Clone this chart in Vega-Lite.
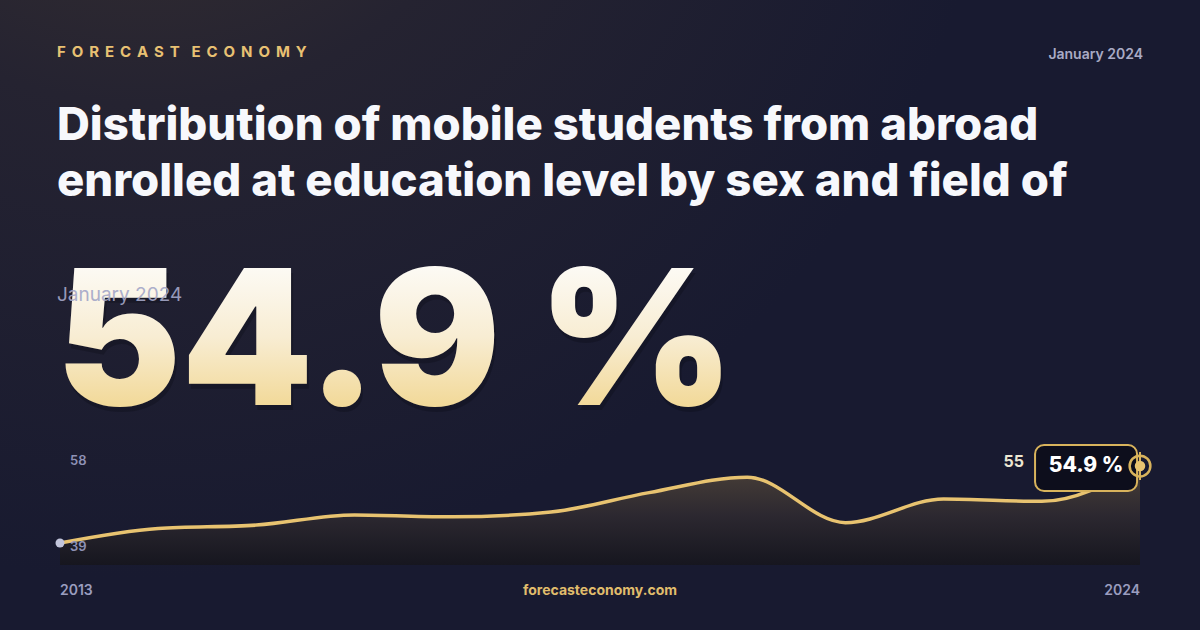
{
  "$schema": "https://vega.github.io/schema/vega-lite/v6.json",
  "width": 1200,
  "height": 630,
  "padding": 0,
  "autosize": {"type": "fit", "contains": "padding"},
  "background": "#181a30",
  "datasets": {
    "series": [
      {"year": 2013, "value": 39.0},
      {"year": 2014, "value": 42.0},
      {"year": 2015, "value": 42.7},
      {"year": 2016, "value": 44.8},
      {"year": 2017, "value": 44.4},
      {"year": 2018, "value": 45.4},
      {"year": 2019, "value": 49.4},
      {"year": 2020, "value": 52.6},
      {"year": 2021, "value": 43.2},
      {"year": 2022, "value": 48.1},
      {"year": 2023, "value": 47.6},
      {"year": 2024, "value": 54.9}
    ]
  },
  "data": {"name": "series"},
  "layer": [
    {
      "data": {"values": [{}]},
      "mark": {
        "type": "rect",
        "color": {
          "gradient": "radial",
          "x1": 0.12, "y1": 0.0, "r1": 0,
          "x2": 0.12, "y2": 0.0, "r2": 0.72,
          "stops": [
            {"offset": 0, "color": "#3d3430"},
            {"offset": 0.45, "color": "#252331"},
            {"offset": 1, "color": "#181a30"}
          ]
        }
      },
      "encoding": {
        "x": {"datum": 2012.389, "type": "quantitative", "scale": {"domain": [2012.389, 2024.611], "nice": false, "zero": false}, "axis": null},
        "x2": {"datum": 2024.611},
        "y": {"datum": 21.04, "type": "quantitative", "scale": {"domain": [21.04, 151.12], "nice": false, "zero": false}, "axis": null},
        "y2": {"datum": 151.12}
      }
    },
    {
      "mark": {
        "type": "area",
        "interpolate": "monotone",
        "color": {
          "gradient": "linear",
          "x1": 0, "y1": 0, "x2": 0, "y2": 1,
          "stops": [
            {"offset": 0, "color": "#4a4038"},
            {"offset": 0.5, "color": "#2c2830"},
            {"offset": 1, "color": "#16161f"}
          ]
        }
      },
      "encoding": {
        "x": {"field": "year", "type": "quantitative"},
        "y": {"field": "value", "type": "quantitative"},
        "y2": {"datum": 34.46}
      }
    },
    {
      "mark": {"type": "line", "interpolate": "monotone", "color": "#e8c370", "strokeWidth": 3.5, "strokeCap": "round"},
      "encoding": {
        "x": {"field": "year", "type": "quantitative"},
        "y": {"field": "value", "type": "quantitative"}
      }
    },
    {
      "transform": [{"filter": "datum.year == 2013"}],
      "mark": {"type": "point", "filled": true, "color": "#c3c6dc", "size": 80, "opacity": 1},
      "encoding": {
        "x": {"field": "year", "type": "quantitative"},
        "y": {"field": "value", "type": "quantitative"}
      }
    },
    {
      "data": {"values": [{"label": "58", "v": 55.93}, {"label": "39", "v": 38.17}]},
      "mark": {"type": "text", "align": "left", "baseline": "middle", "font": "Inter", "fontSize": 13, "fontWeight": 600, "color": "#8f92b6"},
      "encoding": {
        "x": {"datum": 2013.102, "type": "quantitative"},
        "y": {"field": "v", "type": "quantitative"},
        "text": {"field": "label"}
      }
    },
    {
      "data": {"values": [{}]},
      "mark": {"type": "text", "align": "right", "baseline": "middle", "font": "Inter", "fontSize": 16, "fontWeight": 700, "color": "#ece6d2", "text": "55"},
      "encoding": {
        "x": {"datum": 2022.819, "type": "quantitative"},
        "y": {"datum": 55.73, "type": "quantitative"}
      }
    },
    {
      "data": {"values": [{}]},
      "mark": {"type": "rect", "color": "#0d0e1c", "stroke": "#d8b35c", "strokeWidth": 2, "cornerRadius": 9},
      "encoding": {
        "x": {"datum": 2022.931, "type": "quantitative"},
        "x2": {"datum": 2023.970},
        "y": {"datum": 59.24, "type": "quantitative"},
        "y2": {"datum": 49.74}
      }
    },
    {
      "data": {"values": [{}]},
      "mark": {"type": "text", "align": "center", "baseline": "middle", "font": "Inter", "fontSize": 21, "fontWeight": 800, "color": "#ffffff", "text": "54.9 %"},
      "encoding": {
        "x": {"datum": 2023.45, "type": "quantitative"},
        "y": {"datum": 54.8, "type": "quantitative"}
      }
    },
    {
      "data": {"values": [{}]},
      "mark": {"type": "rule", "color": "#d8b35c", "strokeWidth": 2},
      "encoding": {
        "x": {"datum": 2024, "type": "quantitative"},
        "y": {"datum": 57.79, "type": "quantitative"},
        "y2": {"datum": 52.01}
      }
    },
    {
      "transform": [{"filter": "datum.year == 2024"}],
      "mark": {"type": "point", "filled": false, "stroke": "#d8b35c", "strokeWidth": 2.5, "size": 430, "opacity": 1},
      "encoding": {
        "x": {"field": "year", "type": "quantitative"},
        "y": {"field": "value", "type": "quantitative"}
      }
    },
    {
      "transform": [{"filter": "datum.year == 2024"}],
      "mark": {"type": "point", "filled": true, "color": "#e8c370", "size": 110, "opacity": 1},
      "encoding": {
        "x": {"field": "year", "type": "quantitative"},
        "y": {"field": "value", "type": "quantitative"}
      }
    },
    {
      "data": {"values": [{}]},
      "mark": {"type": "text", "align": "left", "baseline": "alphabetic", "font": "Inter", "fontSize": 188, "fontWeight": 900, "color": "#07080f", "opacity": 0.25, "dy": 5, "dx": 2, "text": "54.9 %"},
      "encoding": {
        "x": {"datum": 2012.96, "type": "quantitative"},
        "y": {"datum": 67.49, "type": "quantitative"}
      }
    },
    {
      "data": {"values": [{}]},
      "mark": {
        "type": "text", "align": "left", "baseline": "alphabetic", "font": "Inter", "fontSize": 188, "fontWeight": 900, "text": "54.9 %",
        "color": {
          "gradient": "linear",
          "x1": 0, "y1": 0, "x2": 0, "y2": 1,
          "stops": [
            {"offset": 0.15, "color": "#fdfcf9"},
            {"offset": 0.5, "color": "#f8edd3"},
            {"offset": 0.85, "color": "#f1d690"}
          ]
        }
      },
      "encoding": {
        "x": {"datum": 2012.96, "type": "quantitative"},
        "y": {"datum": 67.49, "type": "quantitative"}
      }
    },
    {
      "data": {"values": [{}]},
      "mark": {"type": "text", "align": "left", "baseline": "middle", "font": "Inter", "fontSize": 19, "fontWeight": 400, "color": "#a4a7c8", "opacity": 0.9, "text": "January 2024"},
      "encoding": {
        "x": {"datum": 2012.969, "type": "quantitative"},
        "y": {"datum": 90.21, "type": "quantitative"}
      }
    },
    {
      "data": {"values": [{}]},
      "mark": {"type": "text", "align": "left", "baseline": "middle", "font": "Inter", "fontSize": 15, "fontWeight": 700, "color": "#e8c173", "text": "F \u2009O \u2009R \u2009E \u2009C \u2009A \u2009S \u2009T \u2009 \u2009E \u2009C \u2009O \u2009N \u2009O \u2009M \u2009Y"},
      "encoding": {
        "x": {"datum": 2012.969, "type": "quantitative"},
        "y": {"datum": 140.4, "type": "quantitative"}
      }
    },
    {
      "data": {"values": [{}]},
      "mark": {"type": "text", "align": "right", "baseline": "middle", "font": "Inter", "fontSize": 14, "fontWeight": 600, "color": "#a9abc5", "text": "January 2024"},
      "encoding": {
        "x": {"datum": 2024.031, "type": "quantitative"},
        "y": {"datum": 139.76, "type": "quantitative"}
      }
    },
    {
      "data": {"values": [{}]},
      "mark": {
        "type": "text", "align": "left", "baseline": "alphabetic", "font": "Inter", "fontSize": 45.5, "fontWeight": 800, "color": "#f7f8fc", "lineHeight": 56,
        "text": ["Distribution of mobile students from abroad", "enrolled at education level by sex and field of"]
      },
      "encoding": {
        "x": {"datum": 2012.969, "type": "quantitative"},
        "y": {"datum": 122.21, "type": "quantitative"}
      }
    },
    {
      "data": {"values": [{}]},
      "mark": {"type": "text", "align": "left", "baseline": "middle", "font": "Inter", "fontSize": 14, "fontWeight": 600, "color": "#9a9dbf", "text": "2013"},
      "encoding": {
        "x": {"datum": 2013, "type": "quantitative"},
        "y": {"datum": 29.09, "type": "quantitative"}
      }
    },
    {
      "data": {"values": [{}]},
      "mark": {"type": "text", "align": "right", "baseline": "middle", "font": "Inter", "fontSize": 14, "fontWeight": 600, "color": "#9a9dbf", "text": "2024"},
      "encoding": {
        "x": {"datum": 2024, "type": "quantitative"},
        "y": {"datum": 29.09, "type": "quantitative"}
      }
    },
    {
      "data": {"values": [{}]},
      "mark": {"type": "text", "align": "center", "baseline": "middle", "font": "Inter", "fontSize": 14, "fontWeight": 700, "color": "#e0bd6c", "text": "forecasteconomy.com"},
      "encoding": {
        "x": {"datum": 2018.5, "type": "quantitative"},
        "y": {"datum": 29.09, "type": "quantitative"}
      }
    }
  ],
  "config": {
    "view": {"stroke": null},
    "text": {"font": "Inter"}
  }
}
